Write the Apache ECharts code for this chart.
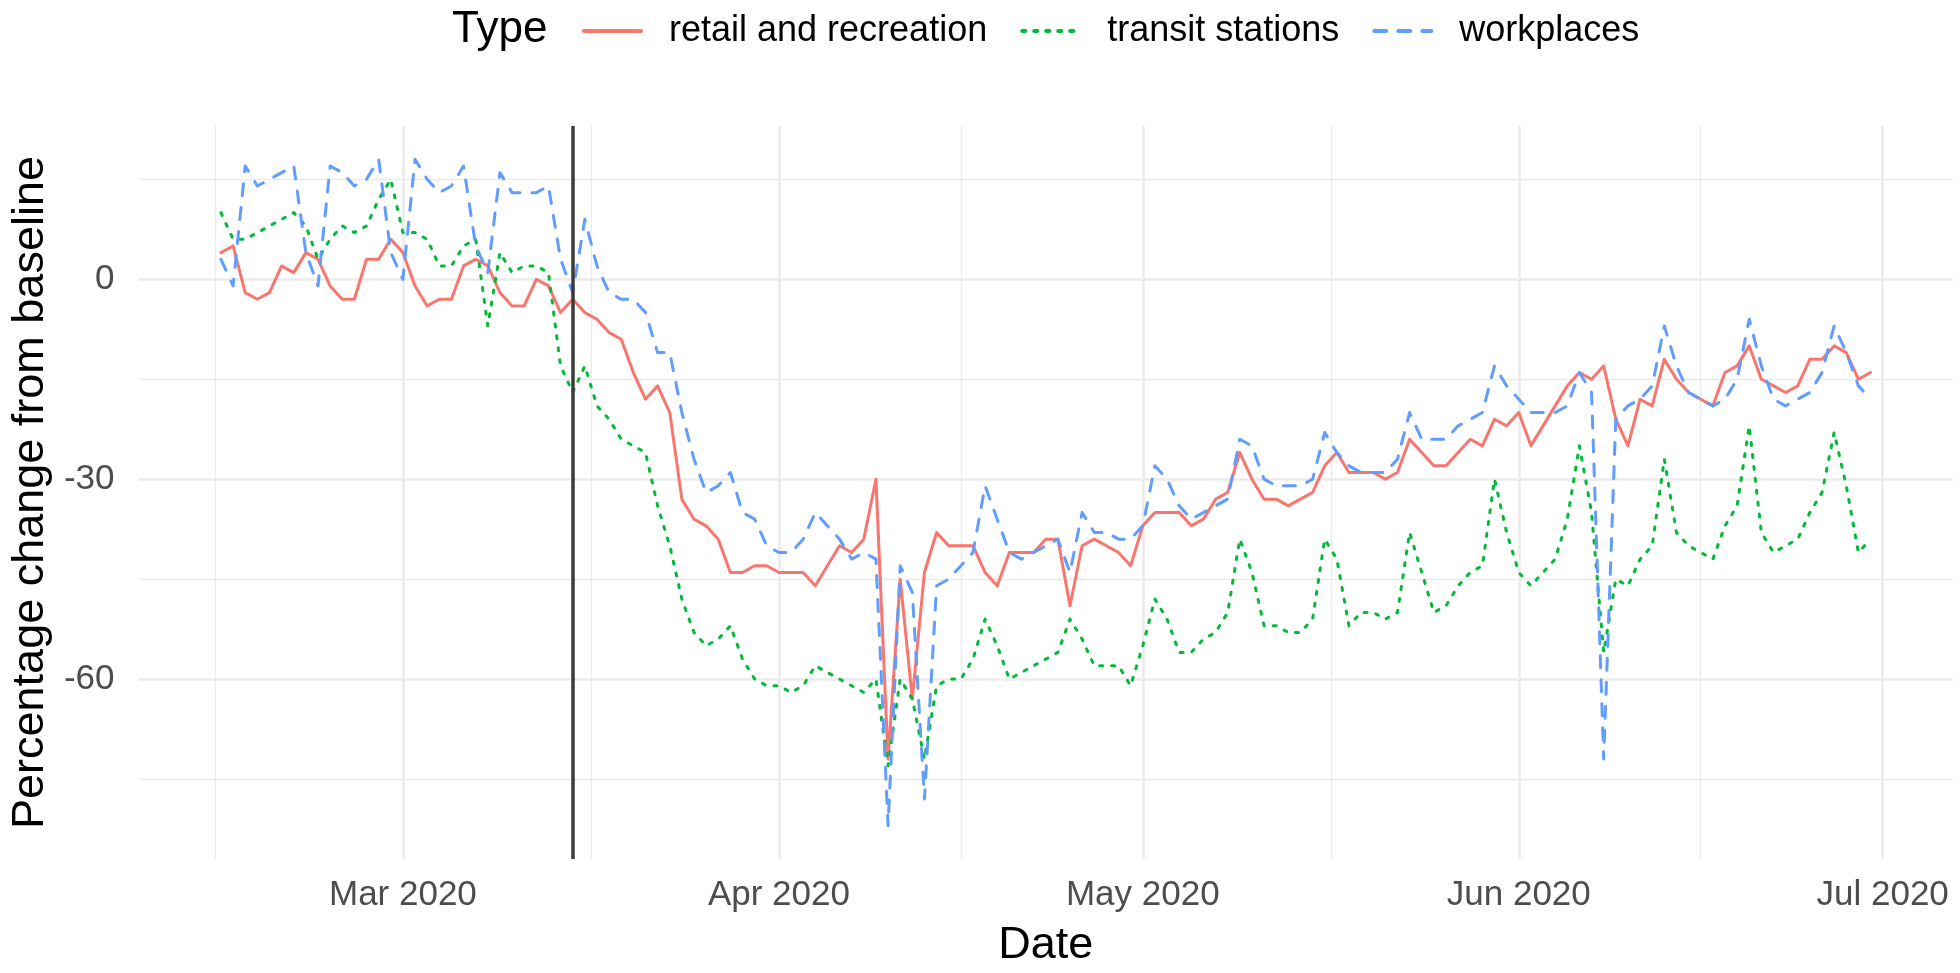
<!DOCTYPE html>
<html>
<head>
<meta charset="utf-8">
<title>Mobility change from baseline</title>
<script src="https://cdn.jsdelivr.net/npm/echarts@6/dist/echarts.min.js"></script>
<style>
html, body { margin: 0; padding: 0; background: #fff; }
#chart { width: 1960px; height: 973px; }
</style>
</head>
<body>
<div id="chart"></div>
<script>
// daily series start here, one value per day
var startDate = '2020-02-15'
var lockdownDate = '2020-03-15'

var monthTicks = ['2020-03-01', '2020-04-01', '2020-05-01', '2020-06-01', '2020-07-01']
var monthLabels = ['Mar 2020', 'Apr 2020', 'May 2020', 'Jun 2020', 'Jul 2020']
var yTicks = [0, -30, -60]
var yMinorTicks = [15, -15, -45, -75]

var typeNames = ['retail and recreation', 'transit stations', 'workplaces']

var retail = [
    4, 5, -2, -3, -2, 2, 1, 4, 3, -1, -3, -3, 3, 3,
    6, 4, -1, -4, -3, -3, 2, 3, 2, -2, -4, -4, 0, -1,
    -5, -3, -5, -6, -8, -9, -14, -18, -16, -20, -33, -36, -37, -39,
    -44, -44, -43, -43, -44, -44, -44, -46, -43, -40, -41, -39, -30, -72,
    -45, -63, -44, -38, -40, -40, -40, -44, -46, -41, -41, -41, -39, -39,
    -49, -40, -39, -40, -41, -43, -37, -35, -35, -35, -37, -36, -33, -32,
    -26, -30, -33, -33, -34, -33, -32, -28, -26, -29, -29, -29, -30, -29,
    -24, -26, -28, -28, -26, -24, -25, -21, -22, -20, -25, -22, -19, -16,
    -14, -15, -13, -21, -25, -18, -19, -12, -15, -17, -18, -19, -14, -13,
    -10, -15, -16, -17, -16, -12, -12, -10, -11, -15, -14
]

var transit = [
    10, 6, 6, 7, 8, 9, 10, 8, 3, 6, 8, 7, 8, 12,
    15, 7, 7, 6, 2, 2, 5, 6, -7, 4, 1, 2, 2, 1,
    -13, -17, -13, -19, -21, -24, -25, -26, -34, -40, -48, -53, -55, -54,
    -52, -57, -60, -61, -61, -62, -61, -58, -59, -60, -61, -62, -60, -73,
    -60, -63, -72, -61, -60, -60, -57, -51, -55, -60, -59, -58, -57, -56,
    -51, -54, -58, -58, -58, -61, -55, -48, -51, -56, -56, -54, -53, -50,
    -39, -44, -52, -52, -53, -53, -51, -39, -42, -52, -50, -50, -51, -50,
    -38, -44, -50, -49, -46, -44, -43, -30, -38, -44, -46, -44, -42, -36,
    -25, -35, -56, -45, -46, -42, -40, -27, -38, -40, -41, -42, -37, -34,
    -22, -38, -41, -40, -39, -35, -32, -23, -31, -41, -39
]

var workplaces = [
    3, -1, 17, 14, 15, 16, 17, 4, -1, 17, 16, 14, 15, 18,
    4, 0, 18, 15, 13, 14, 17, 5, 1, 16, 13, 13, 13, 14,
    3, -2, 9, 2, -2, -3, -3, -5, -11, -11, -20, -27, -32, -31,
    -29, -35, -36, -40, -41, -41, -39, -35, -37, -39, -42, -41, -42, -82,
    -43, -47, -78, -46, -45, -43, -41, -31, -36, -41, -42, -41, -40, -39,
    -44, -35, -38, -38, -39, -39, -37, -28, -30, -34, -36, -35, -34, -33,
    -24, -25, -30, -31, -31, -31, -30, -23, -26, -28, -29, -29, -29, -27,
    -20, -24, -24, -24, -22, -21, -20, -13, -16, -18, -20, -20, -20, -19,
    -14, -17, -72, -21, -19, -18, -16, -7, -13, -17, -18, -19, -18, -15,
    -6, -13, -18, -19, -18, -17, -14, -7, -11, -16, -18
]

var colors = ['#F8766D', '#00BA38', '#619CFF']
var font = 'Liberation Sans, Arial, Helvetica, sans-serif'
var lw = 3

function dayOf(s) {
    return (Date.parse(s) - Date.parse(startDate)) / 86400000
}

// x positions of month breaks, plus ggplot style minor breaks halfway between
var xMajor = monthTicks.map(dayOf)
var step = xMajor[1] - xMajor[0]
var ext = [xMajor[0] - step].concat(xMajor)
var xMinor = []
for (var i = 0; i < ext.length - 1; i++) {
    xMinor.push((ext[i] + ext[i + 1]) / 2)
}

// 5% expansion on both axes, like the default continuous scale
var all = retail.concat(transit, workplaces)
var yLo = Math.min.apply(null, all), yHi = Math.max.apply(null, all)
var yPad = (yHi - yLo) * 0.05
var nDays = retail.length - 1
var xPad = nDays * 0.05

function toPoints(arr) {
    return arr.map(function (v, i) { return [i, v] })
}

var xCommon = { type: 'value', min: -xPad, max: nDays + xPad }
var yCommon = { type: 'value', min: yLo - yPad, max: yHi + yPad }

var chart = echarts.init(document.getElementById('chart'))
chart.setOption({
    animation: false,
    backgroundColor: '#ffffff',
    title: {
        text: 'Type',
        left: 452,
        top: 8,
        padding: 0,
        textStyle: { fontFamily: font, fontSize: 44, fontWeight: 'normal', color: '#000', lineHeight: 44 }
    },
    legend: {
        data: typeNames,
        left: 577,
        top: 6,
        itemWidth: 57,
        itemHeight: 16,
        itemGap: 33,
        itemStyle: { opacity: 0 },   // hide the dot, keep only the line key
        lineStyle: { width: 4 },
        textStyle: { fontFamily: font, fontSize: 36, color: '#000', lineHeight: 40, padding: [0, 0, 0, 23] }
    },
    grid: { left: 134, right: 7, top: 126, bottom: 108, containLabel: false },
    xAxis: [
        Object.assign({}, xCommon, {
            position: 'bottom',
            name: 'Date',
            nameLocation: 'middle',
            nameGap: 64,
            nameTextStyle: { fontFamily: font, fontSize: 45, color: '#000', lineHeight: 45 },
            axisLine: { show: false },
            axisTick: { show: false, customValues: xMajor },
            axisLabel: {
                customValues: xMajor,
                margin: 19,
                fontFamily: font,
                fontSize: 35,
                lineHeight: 35,
                color: '#4D4D4D',
                formatter: function (v) {
                    var k = xMajor.indexOf(v)
                    return k >= 0 ? monthLabels[k] : ''
                }
            },
            splitLine: { show: true, lineStyle: { color: '#EBEBEB', width: 2.6 } }
        }),
        Object.assign({}, xCommon, {
            position: 'top',
            axisLine: { show: false },
            axisTick: { show: false, customValues: xMinor },
            axisLabel: { show: false, customValues: xMinor },
            splitLine: { show: true, lineStyle: { color: '#EBEBEB', width: 1.4 } }
        })
    ],
    yAxis: [
        Object.assign({}, yCommon, {
            position: 'left',
            name: 'Percentage change from baseline',
            nameLocation: 'middle',
            nameGap: 81,
            nameTextStyle: { fontFamily: font, fontSize: 45, color: '#000', lineHeight: 45 },
            axisLine: { show: false },
            axisTick: { show: false, customValues: yTicks },
            axisLabel: {
                customValues: yTicks,
                margin: 24,
                fontFamily: font,
                fontSize: 35,
                color: '#4D4D4D'
            },
            splitLine: { show: true, lineStyle: { color: '#EBEBEB', width: 2.6 } }
        }),
        Object.assign({}, yCommon, {
            position: 'right',
            axisLine: { show: false },
            axisTick: { show: false, customValues: yMinorTicks },
            axisLabel: { show: false, customValues: yMinorTicks },
            splitLine: { show: true, lineStyle: { color: '#EBEBEB', width: 1.4 } }
        })
    ],
    series: [
        {
            name: typeNames[0],
            type: 'line',
            data: toPoints(retail),
            symbol: 'none',
            color: colors[0],
            lineStyle: { width: lw, type: 'solid', cap: 'round', join: 'round' }
        },
        {
            name: typeNames[1],
            type: 'line',
            data: toPoints(transit),
            symbol: 'none',
            color: colors[1],
            lineStyle: { width: lw, type: [lw, lw * 3], cap: 'round', join: 'round' }
        },
        {
            name: typeNames[2],
            type: 'line',
            data: toPoints(workplaces),
            symbol: 'none',
            color: colors[2],
            lineStyle: { width: lw, type: [lw * 4, lw * 4], cap: 'round', join: 'round' },
            markLine: {
                silent: true,
                symbol: ['none', 'none'],
                label: { show: false },
                lineStyle: { color: '#3b3b3b', width: 3.5, type: 'solid' },
                data: [{ xAxis: dayOf(lockdownDate) }]
            }
        }
    ]
})
</script>
</body>
</html>
